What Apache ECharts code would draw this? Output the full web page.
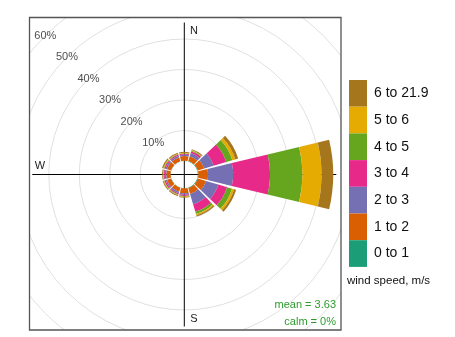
<!DOCTYPE html>
<html>
<head>
<meta charset="utf-8">
<script src="https://cdn.jsdelivr.net/npm/echarts@6/dist/echarts.min.js"></script>
<style>
  body { margin: 0; background: #fff; }
  #chart { width: 455px; height: 337px; }
</style>
</head>
<body>
<div id="chart"></div>
<script>
// wind directions (degrees), 30 degree sectors
var dirs = ['0', '30', '60', '90', '120', '150', '180', '210', '240', '270', '300', '330']
// speed bins, bottom of the stack first
var bins = ['0 to 1', '1 to 2', '2 to 3', '3 to 4', '4 to 5', '5 to 6', '6 to 21.9']
var binColors = ['#1b9e77', '#d95f02', '#7570b3', '#e7298a', '#66a61e', '#e6ab02', '#a6761d']
// frequency (%) per bin and direction
var ws0to1 = [0.1, 0.15, 0.2, 0.2, 0.2, 0.2, 0.1, 0.1, 0.1, 0.1, 0.1, 0.1]
var ws1to2 = [1.5, 1.7, 2.2, 3.2, 2.8, 2.0, 1.6, 1.4, 1.4, 1.4, 1.4, 1.4]
var ws2to3 = [0.5, 1.1, 3.2, 8.2, 4.2, 3.6, 0.5, 0.5, 0.5, 0.5, 0.5, 0.5]
var ws3to4 = [0.3, 0.6, 4.3, 12.1, 3.0, 2.5, 0.4, 0.4, 0.4, 0.3, 0.4, 0.4]
var ws4to5 = [0.15, 0.2, 2.1, 10.6, 1.7, 0.8, 0.15, 0.15, 0.15, 0.15, 0.2, 0.15]
var ws5to6 = [0.15, 0.2, 1.0, 6.3, 0.7, 0.4, 0.15, 0.15, 0.15, 0.15, 0.2, 0.15]
var ws6up = [0.3, 0.3, 1.0, 3.8, 0.7, 0.4, 0.3, 0.3, 0.3, 0.3, 0.4, 0.3]
var binData = [ws0to1, ws1to2, ws2to3, ws3to4, ws4to5, ws5to6, ws6up]
// ring labels
var ringTicks = [10, 20, 30, 40, 50, 60]
var meanSpeed = 3.63
var calmPct = 0

var font = 'Liberation Sans, Arial, sans-serif'
var cx = 184.3
var cy = 174.5
var rIn = 13.5
var rOut = 196.5

var hidden = { show: false }

// bars and everything above them sit on layer 1, rings and the cross on layer 0
var series = bins.map(function (name, i) {
  return {
    name: name,
    type: 'bar',
    coordinateSystem: 'polar',
    polarIndex: 0,
    stack: 'ws',
    zlevel: 1,
    barCategoryGap: '10%',
    itemStyle: { color: binColors[i] },
    data: binData[i]
  }
})

// percentage labels along the NW diagonal
series.push({
  type: 'scatter',
  coordinateSystem: 'polar',
  polarIndex: 1,
  silent: true,
  symbolSize: 1,
  zlevel: 1,
  itemStyle: { color: 'rgba(0,0,0,0)' },
  label: {
    show: true,
    position: 'inside',
    color: '#222',
    fontSize: 11,
    fontFamily: font,
    formatter: function (p) { return p.value[0] + '%' }
  },
  data: ringTicks.map(function (t) { return [t, 315] })
})

var ringColors = ['rgba(0,0,0,0)']
ringTicks.forEach(function () { ringColors.push('#e0e0e0') })

function txt(text, x, y, align, size, color) {
  return {
    type: 'text', zlevel: 1, z: 12,
    style: { text: text, x: x, y: y, textAlign: align, textVerticalAlign: 'middle', font: size + 'px ' + font, fill: color }
  }
}
function mask(x, y, w, h) {
  return { type: 'rect', zlevel: 1, z: 10, shape: { x: x, y: y, width: w, height: h }, style: { fill: '#fff' } }
}

var option = {
  animation: false,
  polar: [
    { center: [cx, cy], radius: [rIn, rOut] },
    { center: [cx, cy], radius: [rIn, rOut] },
    { center: [cx, cy], radius: [0, 152] }
  ],
  angleAxis: [
    {
      polarIndex: 0, type: 'category', data: dirs, startAngle: 105, clockwise: true,
      axisLine: hidden, axisTick: hidden, axisLabel: hidden, splitLine: hidden
    },
    {
      polarIndex: 1, type: 'value', min: 0, max: 360, startAngle: 90, clockwise: true,
      axisLine: hidden, axisTick: hidden, axisLabel: hidden, splitLine: hidden
    },
    {
      // the N-S / E-W cross
      polarIndex: 2, type: 'value', min: 0, max: 360, interval: 90, startAngle: 90,
      axisLine: hidden, axisTick: hidden, axisLabel: hidden,
      splitLine: { show: true, lineStyle: { color: '#000', width: 1 } }
    }
  ],
  radiusAxis: [
    {
      polarIndex: 0, type: 'value', min: 0, max: 60,
      axisLine: hidden, axisTick: hidden, axisLabel: hidden, splitLine: hidden
    },
    {
      polarIndex: 1, type: 'value', min: 0, max: 60, interval: 10,
      axisLine: hidden, axisTick: hidden, axisLabel: hidden,
      splitLine: { show: true, lineStyle: { color: ringColors, width: 1 } }
    },
    {
      polarIndex: 2, type: 'value', min: 0, max: 1,
      axisLine: hidden, axisTick: hidden, axisLabel: hidden, splitLine: hidden
    }
  ],
  legend: {
    zlevel: 1,
    z: 20,
    orient: 'vertical',
    left: 349,
    top: 80,
    padding: 0,
    itemGap: 0,
    itemWidth: 18,
    itemHeight: 26.7,
    icon: 'rect',
    selectedMode: false,
    data: bins.slice().reverse(),
    textStyle: { fontSize: 14, fontFamily: font, color: '#111', padding: [0, 0, 0, 2] }
  },
  graphic: [
    // white masks so the rings stop at the panel edge
    mask(0, 0, 455, 17),
    mask(0, 330, 455, 7),
    mask(0, 0, 29, 337),
    mask(341, 0, 114, 337),
    {
      type: 'rect', zlevel: 1, z: 11,
      shape: { x: 29.5, y: 17.5, width: 311.5, height: 312.5 },
      style: { fill: 'none', stroke: '#555', lineWidth: 1.3 }
    },
    txt('N', 194, 31, 'center', 11, '#222'),
    txt('W', 40, 165.5, 'center', 11, '#222'),
    txt('S', 194, 319, 'center', 11, '#222'),
    txt('mean = ' + meanSpeed, 336, 304.7, 'right', 11, '#2e9b2e'),
    txt('calm = ' + calmPct + '%', 336, 322, 'right', 11, '#2e9b2e'),
    txt('wind speed, m/s', 347, 281, 'left', 11.5, '#111')
  ],
  series: series
}

var mCharts = echarts.init(document.getElementById('chart'))
mCharts.setOption(option)
</script>
</body>
</html>
